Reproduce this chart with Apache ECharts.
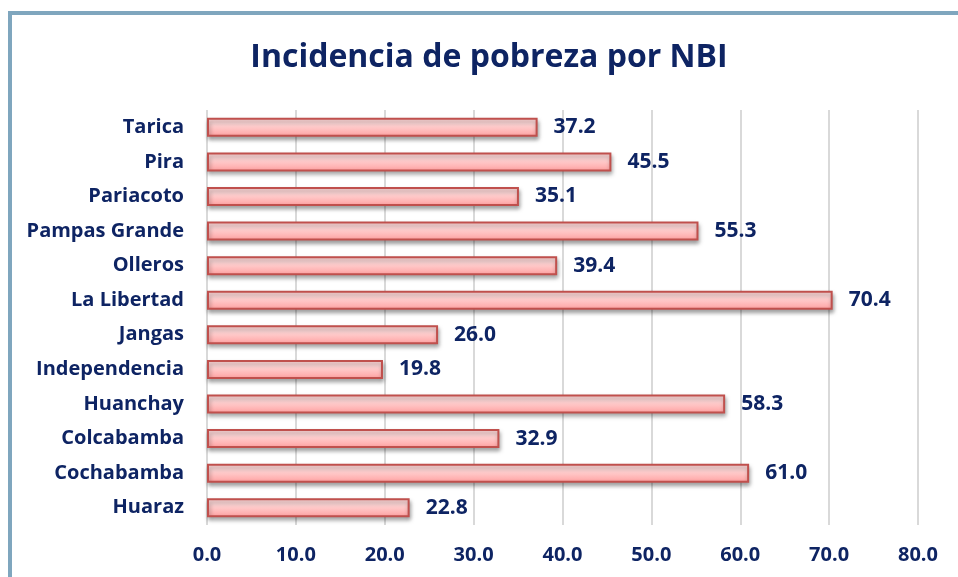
<!DOCTYPE html>
<html>
<head>
<meta charset="utf-8">
<script src="https://cdn.jsdelivr.net/npm/echarts@6/dist/echarts.min.js"></script>
<style>
  html, body { margin: 0; padding: 0; background: #fff; }
  #main { width: 958px; height: 577px; }
</style>
</head>
<body>
<div id="main"></div>
<script>
// distritos, de arriba hacia abajo
var categories = ['Tarica', 'Pira', 'Pariacoto', 'Pampas Grande', 'Olleros', 'La Libertad',
  'Jangas', 'Independencia', 'Huanchay', 'Colcabamba', 'Cochabamba', 'Huaraz'];
var values = [37.2, 45.5, 35.1, 55.3, 39.4, 70.4, 26.0, 19.8, 58.3, 32.9, 61.0, 22.8];

var navy = '#0e2463';
var fontName = '"Open Sans", Lato, sans-serif';

var myChart = echarts.init(document.getElementById('main'));
myChart.setOption({
  animation: false,
  title: {
    text: 'Incidencia de pobreza por NBI',
    left: 484,
    textAlign: 'center',
    top: 37,
    textStyle: { color: navy, fontSize: 32, fontWeight: 'bold', fontFamily: fontName }
  },
  graphic: [{
    type: 'polyline',
    shape: { points: [[10, 577], [10, 13], [958, 13]] },
    style: { stroke: '#7fa6be', lineWidth: 4, fill: null }
  }],
  grid: { left: 207, right: 40, top: 110, bottom: 52 },
  xAxis: {
    type: 'value',
    min: 0,
    max: 80,
    interval: 10,
    axisLine: { show: false },
    axisTick: { show: false },
    splitLine: { lineStyle: { color: '#d9d9d9', width: 2 } },
    axisLabel: {
      margin: 20,
      color: navy,
      fontSize: 20,
      fontWeight: 'bold',
      fontFamily: fontName,
      formatter: function (v) { return v.toFixed(1); }
    }
  },
  yAxis: {
    type: 'category',
    inverse: true,
    data: categories,
    axisLine: { show: false },
    axisTick: { show: false },
    axisLabel: {
      margin: 23,
      color: navy,
      fontSize: 20,
      fontWeight: 'bold',
      fontFamily: fontName
    }
  },
  series: [{
    type: 'bar',
    data: values,
    barWidth: 19,
    itemStyle: {
      color: new echarts.graphic.LinearGradient(0, 0, 0, 1, [
        { offset: 0, color: '#ffd6d6' },
        { offset: 0.3, color: '#ffd8d8' },
        { offset: 1, color: '#ffa0a0' }
      ]),
      borderColor: '#c0504d',
      borderWidth: 2,
      shadowColor: 'rgba(0,0,0,0.35)',
      shadowBlur: 4,
      shadowOffsetX: 1,
      shadowOffsetY: 3
    },
    label: {
      show: true,
      position: 'right',
      distance: 16,
      color: navy,
      fontSize: 21,
      fontWeight: 'bold',
      fontFamily: fontName,
      formatter: function (p) { return p.value.toFixed(1); }
    }
  }]
});
</script>
</body>
</html>
